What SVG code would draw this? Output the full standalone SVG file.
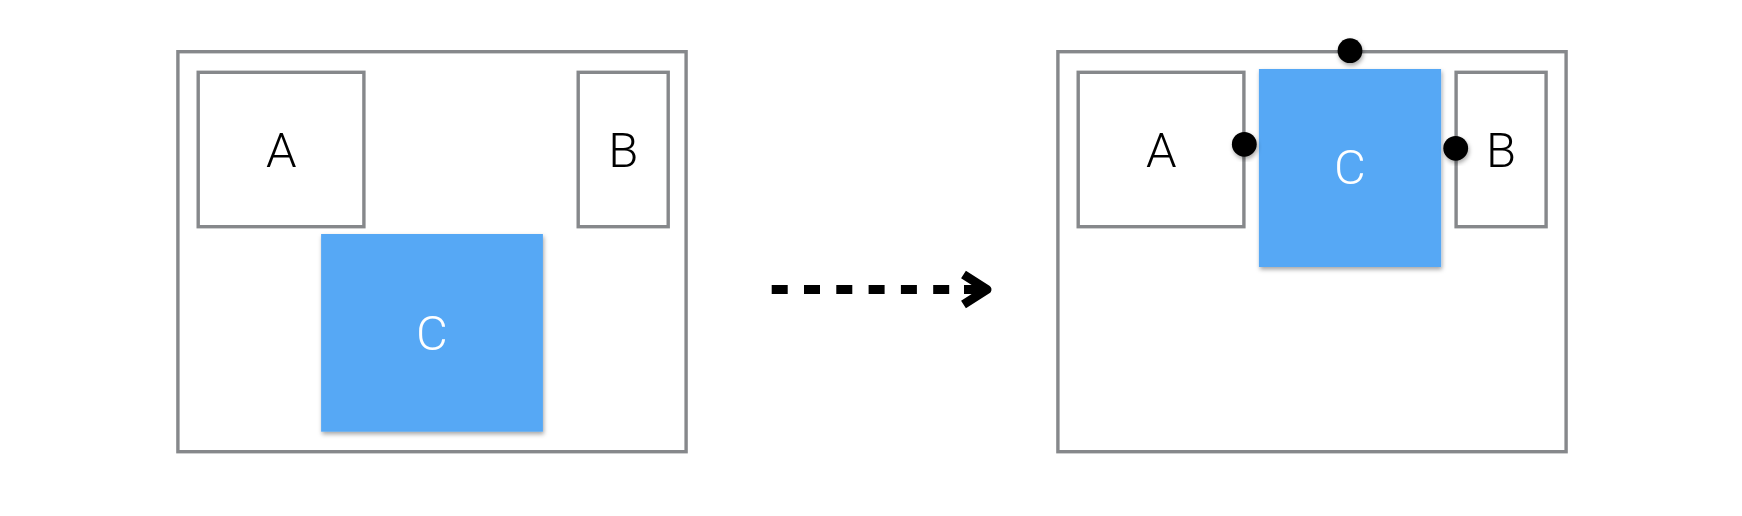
<svg xmlns="http://www.w3.org/2000/svg" width="1742" height="516" viewBox="0 0 1742 516">
  <style>
    .frame { fill: #ffffff; stroke: #86888b; stroke-width: 3.4; }
    .box { fill: #ffffff; stroke: #86888b; stroke-width: 3.4; }
    .blue { fill: #56a8f5; filter: url(#shadow); }
    .dot { fill: #000000; filter: url(#shadow); }
    .lbl { font-family: Roboto, "Liberation Sans", sans-serif; font-weight: 300; font-size: 49px; text-anchor: middle; fill: #000000; }
    .lblw { fill: #ffffff; }
    .arrow { fill: none; stroke: #000000; stroke-width: 9; }
  </style>
  <defs>
    <filter id="shadow" x="-20%" y="-20%" width="140%" height="140%">
      <feDropShadow dx="1" dy="2.5" stdDeviation="2" flood-color="#000000" flood-opacity="0.35"/>
    </filter>
  </defs>
  <rect width="1742" height="516" fill="#ffffff"/>

  <g id="left-frame">
    <rect class="frame" x="177.9" y="51.7" width="508.2" height="400"/>
  </g>
  <g id="left-A">
    <rect class="box" x="198.2" y="72.3" width="165.7" height="154.4"/>
    <text class="lbl" x="281.4" y="166.7">A</text>
  </g>
  <g id="left-B">
    <rect class="box" x="578.2" y="72.3" width="90" height="154.4"/>
    <text class="lbl" x="623.2" y="166.7">B</text>
  </g>
  <g id="left-C">
    <rect class="blue" x="321.1" y="234" width="221.8" height="197.7"/>
    <text class="lbl lblw" x="431.8" y="350">C</text>
  </g>

  <g id="connectors">
    <line class="arrow" x1="771.7" y1="289.5" x2="964" y2="289.5" stroke-dasharray="16 16.3"/>
    <line class="arrow" x1="964" y1="289.5" x2="986" y2="289.5"/>
    <polyline class="arrow" points="963.5,274.5 987,289.5 963.5,304.5" stroke-linejoin="round"/>
  </g>

  <g id="right-frame">
    <rect class="frame" x="1057.9" y="51.7" width="508.2" height="400"/>
  </g>
  <g id="right-A">
    <rect class="box" x="1078.2" y="72.3" width="165.7" height="154.4"/>
    <text class="lbl" x="1161.4" y="166.7">A</text>
  </g>
  <g id="right-B">
    <rect class="box" x="1456.1" y="72.3" width="90" height="154.4"/>
    <text class="lbl" x="1501" y="166.7">B</text>
  </g>
  <g id="right-C">
    <rect class="blue" x="1258.9" y="69" width="182.2" height="198"/>
    <text class="lbl lblw" x="1350" y="184">C</text>
  </g>
  <g id="anchors">
    <circle class="dot" cx="1350" cy="50.7" r="12.4"/>
    <circle class="dot" cx="1244.3" cy="144.3" r="12.4"/>
    <circle class="dot" cx="1455.7" cy="148.3" r="12.4"/>
  </g>
</svg>
